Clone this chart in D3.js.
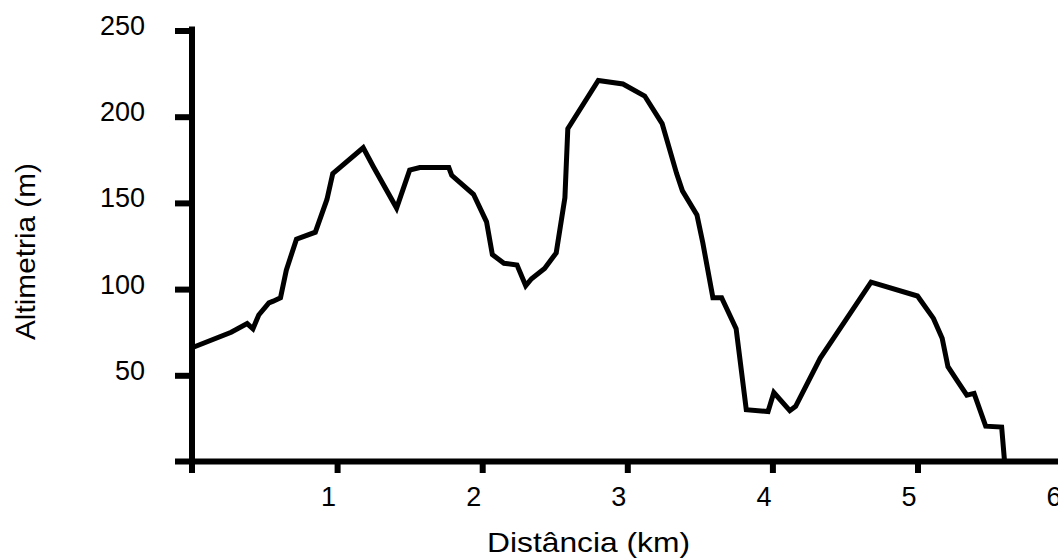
<!DOCTYPE html>
<html>
<head>
<meta charset="utf-8">
<script src="https://cdn.jsdelivr.net/npm/d3@7"></script>
<style>
	body { margin: 0; background: #fff; }
	text { font-family: "Liberation Sans", Arial, sans-serif; fill: #000; }
</style>
</head>
<body>
<div id="d3-plot"></div>
<script>
// distance along the route (km) and altitude (m), read from the profile
var distanceKm = [0, 0.27, 0.38, 0.42, 0.46, 0.53, 0.56, 0.61, 0.65, 0.72, 0.85, 0.93, 0.97, 1.18,
	1.25, 1.41, 1.5, 1.57, 1.77, 1.79, 1.94, 2.03, 2.07, 2.15, 2.24, 2.3, 2.34, 2.43, 2.51, 2.57,
	2.59, 2.8, 2.97, 3.12, 3.24, 3.34, 3.38, 3.48, 3.52, 3.59, 3.65, 3.75, 3.82, 3.97, 4.01, 4.12,
	4.16, 4.33, 4.68, 5.0, 5.11, 5.17, 5.21, 5.28, 5.34, 5.39, 5.47, 5.58, 5.6];
var altitudeM = [66, 75, 80, 77, 85, 92, 93, 95, 111, 129, 133, 152, 167, 182,
	171, 147, 169, 170.5, 170.5, 166, 155, 139, 120, 115, 114, 102, 106, 112, 121, 153,
	193, 221, 219, 212, 196, 167, 157, 143, 127, 95, 95, 77, 30, 29, 40, 29.5,
	32, 60, 104, 96, 83, 71.5, 55, 46, 38.5, 39.5, 20.5, 20, 0];
var xTicks = [1, 2, 3, 4, 5, 6];
var yTicks = [50, 100, 150, 200, 250];

var width = 1058,
	height = 559;

var svg = d3.select("#d3-plot")
	.append("svg")
	.attr("width", width)
	.attr("height", height);

var x = d3.scaleLinear()
	.domain([0, 6])
	.range([192, 1062.6]);
var y = d3.scaleLinear()
	.domain([0, 250])
	.range([461.5, 30.5]);

var data = distanceKm.map(function(d, i) {
	return { km: d, alt: altitudeM[i] };
});

// y axis: thick line with ticks pointing left
var yAxis = d3.axisLeft(y)
	.tickValues(yTicks)
	.tickSizeInner(17)
	.tickSizeOuter(0)
	.tickPadding(30)
	.tickFormat(d3.format("d"));

var gy = svg.append("g")
	.attr("class", "y axis")
	.attr("transform", "translate(" + x(0) + ",0)")
	.call(yAxis);
gy.select(".domain").remove();
gy.append("line")
	.attr("x1", 0).attr("x2", 0)
	.attr("y1", y(250) - 4)
	.attr("y2", y(0) + 11.5)
	.attr("stroke", "#000")
	.attr("stroke-width", 6);
gy.selectAll(".tick line")
	.attr("stroke", "#000")
	.attr("stroke-width", 6);
gy.selectAll(".tick text")
	.attr("font-size", "27px")
	.attr("dy", "0.15em");

// x axis: ticks pointing down, labels sit a little left of their ticks
var xAxis = d3.axisBottom(x)
	.tickValues(xTicks)
	.tickSizeInner(11.5)
	.tickSizeOuter(0)
	.tickPadding(14)
	.tickFormat(d3.format("d"));

var gx = svg.append("g")
	.attr("class", "x axis")
	.attr("transform", "translate(0," + y(0) + ")")
	.call(xAxis);
gx.select(".domain").remove();
gx.append("line")
	.attr("x1", x(0) - 17)
	.attr("x2", width)
	.attr("y1", 0).attr("y2", 0)
	.attr("stroke", "#000")
	.attr("stroke-width", 6);
gx.selectAll(".tick line")
	.attr("stroke", "#000")
	.attr("stroke-width", 6);
gx.selectAll(".tick text")
	.attr("font-size", "27px")
	.attr("dx", -9);

// the altitude profile
var line = d3.line()
	.x(function(d) { return x(d.km); })
	.y(function(d) { return y(d.alt); });

svg.append("path")
	.datum(data)
	.attr("d", line)
	.attr("fill", "none")
	.attr("stroke", "#000")
	.attr("stroke-width", 5)
	.attr("stroke-linejoin", "miter");

// axis titles, stretched to the widths measured on the reference
svg.append("text")
	.attr("x", 487)
	.attr("y", 552)
	.attr("font-size", "28px")
	.attr("textLength", 203)
	.attr("lengthAdjust", "spacingAndGlyphs")
	.text("Distância (km)");

svg.append("text")
	.attr("transform", "translate(35,340) rotate(-90)")
	.attr("font-size", "28px")
	.attr("textLength", 177)
	.attr("lengthAdjust", "spacingAndGlyphs")
	.text("Altimetria (m)");
</script>
</body>
</html>
